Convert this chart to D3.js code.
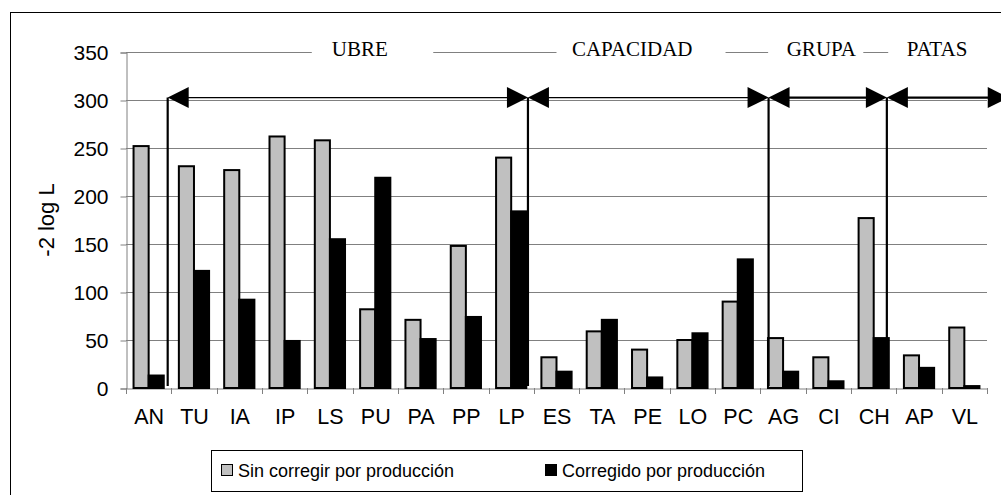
<!DOCTYPE html>
<html><head><meta charset="utf-8">
<script src="https://cdn.jsdelivr.net/npm/d3@7"></script>
<style>body{margin:0;background:#fff}svg{display:block}</style>
</head><body>
<script>
// ---- data ----
const categories = ["AN","TU","IA","IP","LS","PU","PA","PP","LP","ES","TA","PE","LO","PC","AG","CI","CH","AP","VL"];
const sinCorregir = [252,231,227,262,258,82,71,148,240,32,59,40,50,90,52,32,177,34,63];
const corregido   = [13,122,92,49,155,219,51,74,184,17,71,11,57,134,17,7,52,21,2];
const seriesNames = ["Sin corregir por producción","Corregido por producción"];
const yTicks = [0,50,100,150,200,250,300,350];
const groupNames = ["UBRE","CAPACIDAD","GRUPA","PATAS"];

// ---- layout (in category units / pixels) ----
const W = 1001, H = 495;
const plot = {l:126, r:987, t:52, b:388};
const dividers = [0.92, 8.87, 14.18, 16.79];   // vertical separator lines (category units)
const arrowEnd = 19.48;
const labelBoxes = [[4.1,6.78],[9.5,13.23],[14.17,16.27],[16.82,19.4]];
const labelTextX = [4.54,9.84,14.58,17.23];

const svg = d3.select("body").append("svg").attr("width",W).attr("height",H);

// outer frame
svg.append("rect").attr("x",10.5).attr("y",12.5).attr("width",W).attr("height",H)
  .attr("fill","none").attr("stroke","#000").attr("stroke-width",1);

const x = d3.scaleBand().domain(categories).range([plot.l,plot.r]).padding(0);
const xu = d3.scaleLinear().domain([0,categories.length]).range([plot.l,plot.r]);
const y = d3.scaleLinear().domain([0,350]).range([plot.b,plot.t]);

// gridlines
svg.append("g").selectAll("line").data(yTicks.filter(d=>d>0)).join("line")
  .attr("x1",plot.l).attr("x2",plot.r)
  .attr("y1",d=>Math.round(y(d))+0.5).attr("y2",d=>Math.round(y(d))+0.5)
  .attr("stroke","#808080").attr("stroke-width",1);

// y axis
const yAxis = d3.axisLeft(y).tickValues(yTicks).tickSize(6).tickPadding(12);
const gy = svg.append("g").attr("transform",`translate(${plot.l+0.5},0.5)`).call(yAxis);
gy.select(".domain").attr("stroke","#808080");
gy.selectAll(".tick line").attr("stroke","#808080");
gy.selectAll("text").attr("font-family","Liberation Sans, Arial, sans-serif").attr("font-size",21).attr("fill","#000");

// x axis
const xAxis = d3.axisBottom(x).tickSize(0).tickPadding(20);
const gx = svg.append("g").attr("transform",`translate(0.5,${plot.b+0.5})`).call(xAxis);
gx.select(".domain").attr("stroke","#808080");
gx.selectAll("text").attr("font-family","Liberation Sans, Arial, sans-serif").attr("font-size",21.5).attr("fill","#000");
// boundary ticks
svg.append("g").selectAll("line").data(d3.range(categories.length+1)).join("line")
  .attr("x1",d=>Math.round(xu(d))+0.5).attr("x2",d=>Math.round(xu(d))+0.5)
  .attr("y1",plot.b).attr("y2",plot.b+6).attr("stroke","#808080");

// bars
const bw = x.bandwidth()/3;
const bars = svg.append("g");
bars.selectAll("rect.g").data(categories).join("rect").attr("class","g")
  .attr("x",(d,i)=>x(d)+bw/2).attr("width",bw)
  .attr("y",(d,i)=>y(sinCorregir[i])).attr("height",(d,i)=>y(0)-y(sinCorregir[i]))
  .attr("fill","#c0c0c0").attr("stroke","#000").attr("stroke-width",2);
bars.selectAll("rect.b").data(categories).join("rect").attr("class","b")
  .attr("x",(d,i)=>x(d)+bw/2+bw).attr("width",bw)
  .attr("y",(d,i)=>y(corregido[i])).attr("height",(d,i)=>y(0)-y(corregido[i]))
  .attr("fill","#000").attr("stroke","#000").attr("stroke-width",2);

// y title
svg.append("text").attr("transform",`translate(54,${(plot.t+plot.b)/2}) rotate(-90)`)
  .attr("text-anchor","middle").attr("font-family","Liberation Sans, Arial, sans-serif")
  .attr("font-size",22).text("-2 log L");

// group labels with white boxes covering top gridline
const ann = svg.append("g");
labelBoxes.forEach((b,i)=>{
  ann.append("rect").attr("x",xu(b[0])).attr("y",36).attr("width",xu(b[1])-xu(b[0])).attr("height",26).attr("fill","#fff");
  ann.append("text").attr("x",xu(labelTextX[i])).attr("y",56)
    .attr("font-family","Liberation Serif, Times New Roman, serif").attr("font-size",21).text(groupNames[i]);
});

// arrows
const ay = y(302.5);
const stops = dividers.concat([arrowEnd]);
function tri(tipX, dir){ // dir -1 points left, +1 points right
  const L=21, h=10.5;
  return `M${tipX},${ay} L${tipX-dir*L},${ay-h} L${tipX-dir*L},${ay+h} Z`;
}
for(let i=0;i<stops.length-1;i++){
  const a = xu(stops[i]), b = xu(stops[i+1]);
  ann.append("line").attr("x1",a+10).attr("x2",b-10).attr("y1",ay).attr("y2",ay)
    .attr("stroke","#000").attr("stroke-width", i<2 ? 1.2 : 2.2);
  ann.append("path").attr("d",tri(a,-1)).attr("fill","#000");
  ann.append("path").attr("d",tri(b,1)).attr("fill","#000");
}
dividers.forEach(d=>{
  ann.append("line").attr("x1",xu(d)).attr("x2",xu(d)).attr("y1",ay).attr("y2",plot.b-2)
    .attr("stroke","#000").attr("stroke-width",2.2);
});

// legend
const lg = svg.append("g");
lg.append("rect").attr("x",211.5).attr("y",450.5).attr("width",591).attr("height",41)
  .attr("fill","#fff").attr("stroke","#000").attr("stroke-width",1);
const legX = [221, 545];
seriesNames.forEach((n,i)=>{
  lg.append("rect").attr("x",legX[i]+0.5).attr("y",464.5).attr("width",11).attr("height",11)
    .attr("fill", i===0?"#c0c0c0":"#000").attr("stroke","#000").attr("stroke-width",1);
  lg.append("text").attr("x",legX[i]+17).attr("y",477).attr("font-family","Liberation Sans, Arial, sans-serif")
    .attr("font-size",18).text(n);
});
</script>
</body></html>
